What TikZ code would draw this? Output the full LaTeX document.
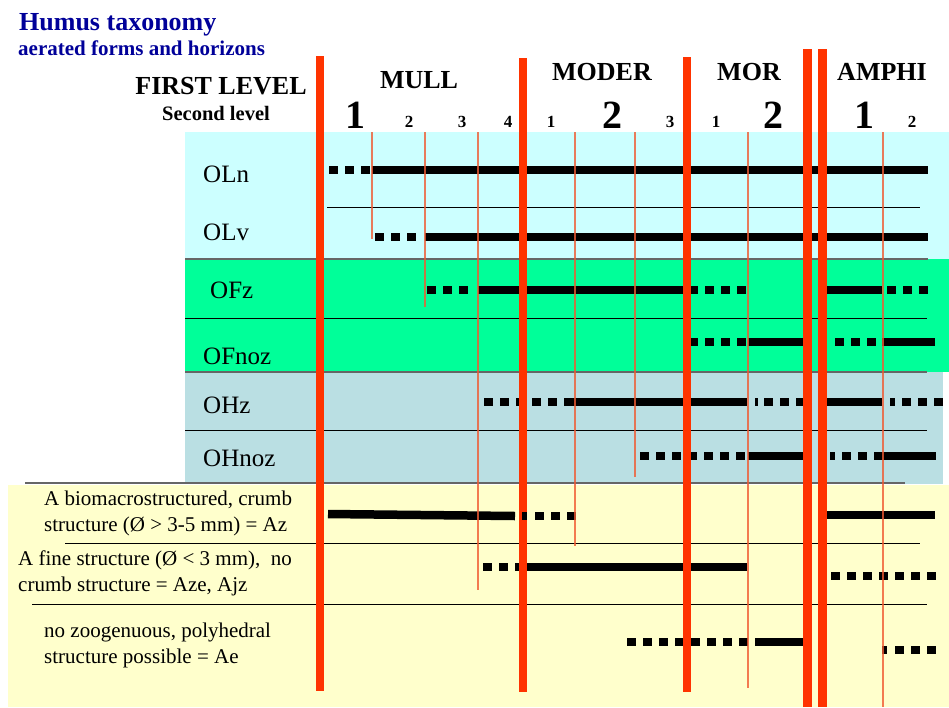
\documentclass[tikz,border=0pt]{standalone}
\usepackage{fontspec}
\setmainfont{Liberation Serif}
\definecolor{myred}{RGB}{255,51,0}
\definecolor{thinred}{RGB}{240,90,50}
\definecolor{cyanbg}{RGB}{204,255,255}
\definecolor{greenbg}{RGB}{0,255,153}
\definecolor{graybg}{RGB}{186,223,227}
\definecolor{yellowbg}{RGB}{255,255,204}
\definecolor{titleblue}{RGB}{0,0,153}
\tikzset{
  solidbar/.style={line width=8.5pt},
  dotbar/.style={line width=8.5pt, dash pattern=on 8.5pt off 7.5pt},
  redbar/.style={line width=8.5pt, draw=myred},
  thinrl/.style={line width=1.3pt, draw=thinred, opacity=0.8},
  rowline/.style={line width=1pt, draw=black},
  bandline/.style={line width=1.8pt, draw=black!60},
  heading/.style={font=\fontsize{26}{30}\selectfont\bfseries, inner sep=0pt},
  bigdigit/.style={font=\fontsize{40}{44}\selectfont\bfseries, inner sep=0pt, anchor=base},
  smalldigit/.style={font=\fontsize{17}{20}\selectfont\bfseries, inner sep=0pt, anchor=base},
  rowlabel/.style={font=\fontsize{25}{28}\selectfont, inner sep=0pt, anchor=base west},
  ytext/.style={font=\fontsize{21}{26}\selectfont, inner sep=0pt, anchor=base west},
}
\begin{document}
\begin{tikzpicture}[x=1pt,y=-1pt]
\useasboundingbox (0,0) rectangle (949,707);
% backgrounds
\fill[cyanbg] (185,132) rectangle (949,259);
\fill[greenbg] (185,259) rectangle (949,372);
\fill[graybg] (185,372) rectangle (943,484);
\fill[yellowbg] (8,485) rectangle (949,707);
% horizontal lines
\draw[rowline] (327,207) -- (920,207);
\draw[bandline] (185,259) -- (928,259);
\draw[rowline] (185,318) -- (927,318);
\draw[bandline] (185,372) -- (927,372);
\draw[rowline] (185,430) -- (927,430);
\draw[bandline] (25,483) -- (905,483);
\draw[rowline] (65,543) -- (920,543);
\draw[rowline] (32,604) -- (927,604);
% titles
\node[anchor=base west, inner sep=0pt, text=titleblue, font=\fontsize{26}{30}\selectfont\bfseries] (title) at (19,30) {Humus taxonomy};
\node[anchor=base west, inner sep=0pt, text=titleblue, font=\fontsize{21}{24}\selectfont\bfseries] (subtitle) at (18,55) {aerated forms and horizons};
\node[heading, anchor=base] (first) at (221,94) {FIRST LEVEL};
\node[anchor=base, inner sep=0pt, font=\fontsize{20.5}{24}\selectfont\bfseries] (second) at (216,120) {Second level};
\node[heading, anchor=base] (mull) at (419,88) {MULL};
\node[heading, anchor=base] (moder) at (602,80) {MODER};
\node[heading, anchor=base] (mor) at (749,80) {MOR};
\node[heading, anchor=base] (amphi) at (882,80) {AMPHI};
\node[bigdigit] (m1) at (355,128) {1};
\node[smalldigit] (m2) at (409,127) {2};
\node[smalldigit] (m3) at (462,127) {3};
\node[smalldigit] (m4) at (508,127) {4};
\node[smalldigit] (d1) at (551,127) {1};
\node[bigdigit] (d2) at (612,128) {2};
\node[smalldigit] (d3) at (670,127) {3};
\node[smalldigit] (r1) at (716,127) {1};
\node[bigdigit] (r2) at (773,128) {2};
\node[bigdigit] (a1) at (864,128) {1};
\node[smalldigit] (a2) at (912,127) {2};
% row labels
\node[rowlabel] (oln) at (203,182) {OLn};
\node[rowlabel] (olv) at (203,240) {OLv};
\node[rowlabel] (ofz) at (210,298) {OFz};
\node[rowlabel] (ofnoz) at (203,364) {OFnoz};
\node[rowlabel] (ohz) at (203,413) {OHz};
\node[rowlabel] (ohnoz) at (203,466) {OHnoz};
\node[ytext] (az1) at (44,505) {A biomacrostructured, crumb};
\node[ytext] (az2) at (44,531) {structure (Ø > 3-5 mm) = Az};
\node[ytext] (aze1) at (18,565) {A fine structure (Ø < 3 mm),\ \ no};
\node[ytext] (aze2) at (18,591) {crumb structure = Aze, Ajz};
\node[ytext] (ae1) at (44,637) {no zoogenuous, polyhedral};
\node[ytext] (ae2) at (44,663) {structure possible = Ae};
% bars: OLn
\draw[dotbar] (329,170) -- (370,170);
\draw[solidbar] (372,170) -- (928,170);
% OLv
\draw[dotbar] (375,237) -- (416,237);
\draw[solidbar] (425,237) -- (928,237);
% OFz
\draw[dotbar] (427,290) -- (468,290);
\draw[solidbar] (478,290) -- (683,290);
\draw[dotbar] (689,290) -- (746,290);
\draw[solidbar] (827,290) -- (882,290);
\draw[dotbar] (887,290) -- (928,290);
% OFnoz
\draw[dotbar] (689,342) -- (746,342);
\draw[solidbar] (748,342) -- (803,342);
\draw[dotbar] (835,342) -- (876,342);
\draw[solidbar] (882,342) -- (935,342);
% OHz
\draw[dotbar] (484,402) -- (573,402);
\draw[solidbar] (573,402) -- (747,402);
\draw[solidbar] (755,402) -- (757.5,402);
\draw[dotbar] (764,402) -- (804,402);
\draw[solidbar] (827,402) -- (882,402);
\draw[solidbar] (890,402) -- (895,402);
\draw[dotbar] (902,402) -- (943,402);
% OHnoz
\draw[dotbar] (640,456) -- (745,456);
\draw[solidbar] (748,456) -- (803,456);
\draw[solidbar] (830,456) -- (835,456);
\draw[dotbar] (842,456) -- (867,456);
\draw[solidbar] (874,456) -- (936,456);
% Az
\draw[solidbar] (328,514) -- (515,516);
\draw[dotbar] (535,516) -- (576,516);
\draw[solidbar] (827,515) -- (935,515);
% Aze
\draw[dotbar] (483,567) -- (523,567);
\draw[solidbar] (527,567) -- (747,567);
\draw[dotbar] (831,576) -- (936,576);
% Ae
\draw[dotbar] (627,642) -- (748,642);
\draw[solidbar] (755,642) -- (808,642);
\draw[solidbar] (882,650) -- (887,650);
\draw[dotbar] (895,650) -- (936,650);
% thin red lines
\draw[thinrl] (372,132) -- (372,239);
\draw[thinrl] (425,132) -- (425,307);
\draw[thinrl] (478,132) -- (478,590);
\draw[thinrl] (575,132) -- (575,546);
\draw[thinrl] (635,132) -- (635,477);
\draw[thinrl] (748,132) -- (748,688);
\draw[thinrl] (883,132) -- (883,707);
% thick red lines
\draw[redbar] (320,56) -- (320,691);
\draw[redbar] (523,58) -- (523,692);
\draw[redbar] (687,57) -- (687,692);
\draw[redbar] (807.5,49) -- (807.5,707);
\draw[redbar] (822.5,49) -- (822.5,707);
% tick over the red line in the Az row
\draw[solidbar] (522,516) -- (527,516);
\end{tikzpicture}
\end{document}
